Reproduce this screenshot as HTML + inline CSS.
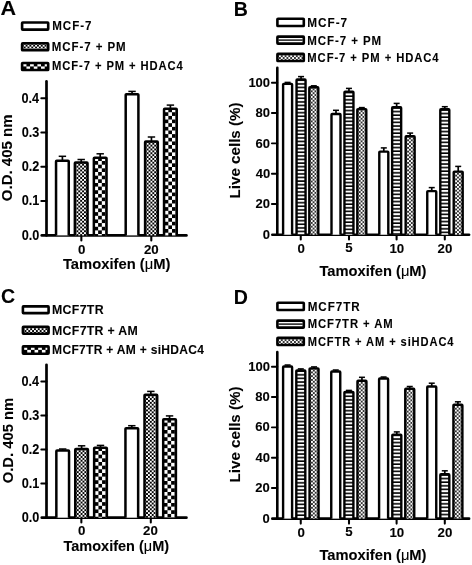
<!DOCTYPE html>
<html><head><meta charset="utf-8"><style>
html,body{margin:0;padding:0;background:#fff;width:472px;height:565px;overflow:hidden;font-family:"Liberation Sans",sans-serif;}
#wrap{position:absolute;left:0;top:0;width:472px;height:565px;}
</style></head><body><div id="wrap">
<svg width="472" height="565" viewBox="0 0 472 565" style="position:absolute;left:0;top:0" font-family='"Liberation Sans", sans-serif' font-weight="bold" fill="#000">
<defs stroke="none"><pattern id="p0" patternUnits="userSpaceOnUse" x="23.70" y="44.70" width="3.80" height="3.80"><rect width="3.80" height="3.80" fill="#000"/><rect width="1.90" height="1.90" fill="#fff"/><rect x="1.90" y="1.90" width="1.90" height="1.90" fill="#fff"/></pattern>
<pattern id="p1" patternUnits="userSpaceOnUse" x="22.80" y="62.80" width="7.30" height="7.30"><rect width="7.30" height="7.30" fill="#000"/><rect width="3.65" height="3.65" fill="#fff"/><rect x="3.65" y="3.65" width="3.65" height="3.65" fill="#fff"/></pattern>
<pattern id="p2" patternUnits="userSpaceOnUse" x="76.40" y="163.80" width="3.80" height="3.80"><rect width="3.80" height="3.80" fill="#000"/><rect width="1.90" height="1.90" fill="#fff"/><rect x="1.90" y="1.90" width="1.90" height="1.90" fill="#fff"/></pattern>
<pattern id="p3" patternUnits="userSpaceOnUse" x="94.50" y="157.40" width="7.30" height="7.30"><rect width="7.30" height="7.30" fill="#000"/><rect width="3.65" height="3.65" fill="#fff"/><rect x="3.65" y="3.65" width="3.65" height="3.65" fill="#fff"/></pattern>
<pattern id="p4" patternUnits="userSpaceOnUse" x="146.65" y="142.80" width="3.80" height="3.80"><rect width="3.80" height="3.80" fill="#000"/><rect width="1.90" height="1.90" fill="#fff"/><rect x="1.90" y="1.90" width="1.90" height="1.90" fill="#fff"/></pattern>
<pattern id="p5" patternUnits="userSpaceOnUse" x="164.70" y="108.60" width="7.30" height="7.30"><rect width="7.30" height="7.30" fill="#000"/><rect width="3.65" height="3.65" fill="#fff"/><rect x="3.65" y="3.65" width="3.65" height="3.65" fill="#fff"/></pattern>
<pattern id="p6" patternUnits="userSpaceOnUse" x="24.50" y="328.20" width="3.80" height="3.80"><rect width="3.80" height="3.80" fill="#000"/><rect width="1.90" height="1.90" fill="#fff"/><rect x="1.90" y="1.90" width="1.90" height="1.90" fill="#fff"/></pattern>
<pattern id="p7" patternUnits="userSpaceOnUse" x="23.60" y="346.20" width="7.30" height="7.30"><rect width="7.30" height="7.30" fill="#000"/><rect width="3.65" height="3.65" fill="#fff"/><rect x="3.65" y="3.65" width="3.65" height="3.65" fill="#fff"/></pattern>
<pattern id="p8" patternUnits="userSpaceOnUse" x="76.80" y="450.30" width="3.80" height="3.80"><rect width="3.80" height="3.80" fill="#000"/><rect width="1.90" height="1.90" fill="#fff"/><rect x="1.90" y="1.90" width="1.90" height="1.90" fill="#fff"/></pattern>
<pattern id="p9" patternUnits="userSpaceOnUse" x="94.80" y="447.40" width="7.30" height="7.30"><rect width="7.30" height="7.30" fill="#000"/><rect width="3.65" height="3.65" fill="#fff"/><rect x="3.65" y="3.65" width="3.65" height="3.65" fill="#fff"/></pattern>
<pattern id="p10" patternUnits="userSpaceOnUse" x="146.05" y="396.20" width="3.80" height="3.80"><rect width="3.80" height="3.80" fill="#000"/><rect width="1.90" height="1.90" fill="#fff"/><rect x="1.90" y="1.90" width="1.90" height="1.90" fill="#fff"/></pattern>
<pattern id="p11" patternUnits="userSpaceOnUse" x="163.85" y="419.00" width="7.30" height="7.30"><rect width="7.30" height="7.30" fill="#000"/><rect width="3.65" height="3.65" fill="#fff"/><rect x="3.65" y="3.65" width="3.65" height="3.65" fill="#fff"/></pattern>
<pattern id="p12" patternUnits="userSpaceOnUse" x="278.95" y="55.20" width="3.76" height="3.76"><rect width="3.76" height="3.76" fill="#fff"/><rect x="1.97" y="0.09" width="1.70" height="1.70" fill="#000"/><rect x="0.09" y="1.97" width="1.70" height="1.70" fill="#000"/></pattern>
<pattern id="p13" patternUnits="userSpaceOnUse" x="297.75" y="81.10" width="4" height="3.6"><rect width="4" height="3.6" fill="#000"/><rect width="4" height="2.02" fill="#fff"/></pattern>
<pattern id="p14" patternUnits="userSpaceOnUse" x="310.75" y="88.50" width="3.76" height="3.76"><rect width="3.76" height="3.76" fill="#fff"/><rect x="1.97" y="0.09" width="1.70" height="1.70" fill="#000"/><rect x="0.09" y="1.97" width="1.70" height="1.70" fill="#000"/></pattern>
<pattern id="p15" patternUnits="userSpaceOnUse" x="345.65" y="93.40" width="4" height="3.6"><rect width="4" height="3.6" fill="#000"/><rect width="4" height="2.02" fill="#fff"/></pattern>
<pattern id="p16" patternUnits="userSpaceOnUse" x="358.75" y="110.30" width="3.76" height="3.76"><rect width="3.76" height="3.76" fill="#fff"/><rect x="1.97" y="0.09" width="1.70" height="1.70" fill="#000"/><rect x="0.09" y="1.97" width="1.70" height="1.70" fill="#000"/></pattern>
<pattern id="p17" patternUnits="userSpaceOnUse" x="393.35" y="108.80" width="4" height="3.6"><rect width="4" height="3.6" fill="#000"/><rect width="4" height="2.02" fill="#fff"/></pattern>
<pattern id="p18" patternUnits="userSpaceOnUse" x="407.10" y="137.50" width="3.76" height="3.76"><rect width="3.76" height="3.76" fill="#fff"/><rect x="1.97" y="0.09" width="1.70" height="1.70" fill="#000"/><rect x="0.09" y="1.97" width="1.70" height="1.70" fill="#000"/></pattern>
<pattern id="p19" patternUnits="userSpaceOnUse" x="441.50" y="110.80" width="4" height="3.6"><rect width="4" height="3.6" fill="#000"/><rect width="4" height="2.02" fill="#fff"/></pattern>
<pattern id="p20" patternUnits="userSpaceOnUse" x="455.15" y="172.80" width="3.76" height="3.76"><rect width="3.76" height="3.76" fill="#fff"/><rect x="1.97" y="0.09" width="1.70" height="1.70" fill="#000"/><rect x="0.09" y="1.97" width="1.70" height="1.70" fill="#000"/></pattern>
<pattern id="p21" patternUnits="userSpaceOnUse" x="278.95" y="339.20" width="3.76" height="3.76"><rect width="3.76" height="3.76" fill="#fff"/><rect x="1.97" y="0.09" width="1.70" height="1.70" fill="#000"/><rect x="0.09" y="1.97" width="1.70" height="1.70" fill="#000"/></pattern>
<pattern id="p22" patternUnits="userSpaceOnUse" x="297.50" y="372.00" width="4" height="3.6"><rect width="4" height="3.6" fill="#000"/><rect width="4" height="2.02" fill="#fff"/></pattern>
<pattern id="p23" patternUnits="userSpaceOnUse" x="311.00" y="369.60" width="3.76" height="3.76"><rect width="3.76" height="3.76" fill="#fff"/><rect x="1.97" y="0.09" width="1.70" height="1.70" fill="#000"/><rect x="0.09" y="1.97" width="1.70" height="1.70" fill="#000"/></pattern>
<pattern id="p24" patternUnits="userSpaceOnUse" x="345.60" y="393.50" width="4" height="3.6"><rect width="4" height="3.6" fill="#000"/><rect width="4" height="2.02" fill="#fff"/></pattern>
<pattern id="p25" patternUnits="userSpaceOnUse" x="358.90" y="381.90" width="3.76" height="3.76"><rect width="3.76" height="3.76" fill="#fff"/><rect x="1.97" y="0.09" width="1.70" height="1.70" fill="#000"/><rect x="0.09" y="1.97" width="1.70" height="1.70" fill="#000"/></pattern>
<pattern id="p26" patternUnits="userSpaceOnUse" x="393.50" y="436.20" width="4" height="3.6"><rect width="4" height="3.6" fill="#000"/><rect width="4" height="2.02" fill="#fff"/></pattern>
<pattern id="p27" patternUnits="userSpaceOnUse" x="406.70" y="390.00" width="3.76" height="3.76"><rect width="3.76" height="3.76" fill="#fff"/><rect x="1.97" y="0.09" width="1.70" height="1.70" fill="#000"/><rect x="0.09" y="1.97" width="1.70" height="1.70" fill="#000"/></pattern>
<pattern id="p28" patternUnits="userSpaceOnUse" x="441.50" y="475.80" width="4" height="3.6"><rect width="4" height="3.6" fill="#000"/><rect width="4" height="2.02" fill="#fff"/></pattern>
<pattern id="p29" patternUnits="userSpaceOnUse" x="454.85" y="405.90" width="3.76" height="3.76"><rect width="3.76" height="3.76" fill="#fff"/><rect x="1.97" y="0.09" width="1.70" height="1.70" fill="#000"/><rect x="0.09" y="1.97" width="1.70" height="1.70" fill="#000"/></pattern></defs>
<filter id="bl" x="0" y="0" width="472" height="565" filterUnits="userSpaceOnUse" color-interpolation-filters="sRGB"><feConvolveMatrix order="3" kernelMatrix="0.00001 0.00381 0.00001 0.00381 0.98471 0.00381 0.00001 0.00381 0.00001" edgeMode="duplicate" preserveAlpha="true"/></filter>
<g filter="url(#bl)">
<rect width="472" height="565" fill="#fff" stroke="none"/>
<g stroke="#000">
<rect x="22.10" y="22.50" width="26.10" height="7.10" rx="0.6" fill="#fff" stroke-width="2.6"/>
<rect x="22.10" y="43.30" width="26.10" height="7.00" rx="0.6" fill="url(#p0)" stroke-width="2.6"/>
<rect x="22.10" y="63.00" width="26.10" height="7.00" rx="0.6" fill="url(#p1)" stroke-width="2.6"/>
<line x1="46.50" y1="81.45" x2="46.50" y2="235.40" stroke-width="2.7" stroke-linecap="round"/>
<line x1="41.80" y1="235.40" x2="186.40" y2="235.40" stroke-width="2.8" stroke-linecap="round"/>
<line x1="41.30" y1="98.20" x2="46.50" y2="98.20" stroke-width="1.95" stroke-linecap="round"/>
<line x1="41.30" y1="132.45" x2="46.50" y2="132.45" stroke-width="1.95" stroke-linecap="round"/>
<line x1="41.30" y1="166.70" x2="46.50" y2="166.70" stroke-width="1.95" stroke-linecap="round"/>
<line x1="41.30" y1="200.95" x2="46.50" y2="200.95" stroke-width="1.95" stroke-linecap="round"/>
<line x1="81.35" y1="235.40" x2="81.35" y2="240.50" stroke-width="2.05" stroke-linecap="round"/>
<line x1="151.30" y1="235.40" x2="151.30" y2="240.50" stroke-width="2.05" stroke-linecap="round"/>
<rect x="56.05" y="160.75" width="12.70" height="74.65" fill="#fff" stroke="none"/>
<path d="M56.05,235.40 V161.45 Q56.05,160.75 56.75,160.75 H68.05 Q68.75,160.75 68.75,161.45 V235.40" fill="none" stroke-width="2.5"/>
<line x1="62.40" y1="156.30" x2="62.40" y2="160.30" stroke-width="1.7"/>
<line x1="58.70" y1="156.30" x2="66.10" y2="156.30" stroke-width="1.5"/>
<rect x="74.85" y="162.45" width="12.70" height="72.95" fill="url(#p2)" stroke="none"/>
<path d="M74.85,235.40 V163.15 Q74.85,162.45 75.55,162.45 H86.85 Q87.55,162.45 87.55,163.15 V235.40" fill="none" stroke-width="2.5"/>
<line x1="81.20" y1="159.50" x2="81.20" y2="162.00" stroke-width="1.7"/>
<line x1="77.50" y1="159.50" x2="84.90" y2="159.50" stroke-width="1.5"/>
<rect x="93.85" y="157.65" width="12.70" height="77.75" fill="url(#p3)" stroke="none"/>
<path d="M93.85,235.40 V158.35 Q93.85,157.65 94.55,157.65 H105.85 Q106.55,157.65 106.55,158.35 V235.40" fill="none" stroke-width="2.5"/>
<line x1="100.20" y1="153.80" x2="100.20" y2="157.20" stroke-width="1.7"/>
<line x1="96.50" y1="153.80" x2="103.90" y2="153.80" stroke-width="1.5"/>
<rect x="125.70" y="94.15" width="12.70" height="141.25" fill="#fff" stroke="none"/>
<path d="M125.70,235.40 V94.85 Q125.70,94.15 126.40,94.15 H137.70 Q138.40,94.15 138.40,94.85 V235.40" fill="none" stroke-width="2.5"/>
<line x1="132.05" y1="91.40" x2="132.05" y2="93.70" stroke-width="1.7"/>
<line x1="128.35" y1="91.40" x2="135.75" y2="91.40" stroke-width="1.5"/>
<rect x="145.10" y="141.45" width="12.70" height="93.95" fill="url(#p4)" stroke="none"/>
<path d="M145.10,235.40 V142.15 Q145.10,141.45 145.80,141.45 H157.10 Q157.80,141.45 157.80,142.15 V235.40" fill="none" stroke-width="2.5"/>
<line x1="151.45" y1="137.00" x2="151.45" y2="141.00" stroke-width="1.7"/>
<line x1="147.75" y1="137.00" x2="155.15" y2="137.00" stroke-width="1.5"/>
<rect x="164.05" y="108.85" width="12.70" height="126.55" fill="url(#p5)" stroke="none"/>
<path d="M164.05,235.40 V109.55 Q164.05,108.85 164.75,108.85 H176.05 Q176.75,108.85 176.75,109.55 V235.40" fill="none" stroke-width="2.5"/>
<line x1="170.40" y1="105.10" x2="170.40" y2="108.40" stroke-width="1.7"/>
<line x1="166.70" y1="105.10" x2="174.10" y2="105.10" stroke-width="1.5"/>
<rect x="22.90" y="306.40" width="25.70" height="6.70" rx="0.6" fill="#fff" stroke-width="2.6"/>
<rect x="22.90" y="326.80" width="25.70" height="6.90" rx="0.6" fill="url(#p6)" stroke-width="2.6"/>
<rect x="22.90" y="346.40" width="25.70" height="7.30" rx="0.6" fill="url(#p7)" stroke-width="2.6"/>
<line x1="46.50" y1="364.85" x2="46.50" y2="517.70" stroke-width="2.7" stroke-linecap="round"/>
<line x1="41.80" y1="517.70" x2="186.40" y2="517.70" stroke-width="2.8" stroke-linecap="round"/>
<line x1="41.30" y1="381.40" x2="46.50" y2="381.40" stroke-width="1.95" stroke-linecap="round"/>
<line x1="41.30" y1="415.40" x2="46.50" y2="415.40" stroke-width="1.95" stroke-linecap="round"/>
<line x1="41.30" y1="449.40" x2="46.50" y2="449.40" stroke-width="1.95" stroke-linecap="round"/>
<line x1="41.30" y1="483.40" x2="46.50" y2="483.40" stroke-width="1.95" stroke-linecap="round"/>
<line x1="81.35" y1="517.70" x2="81.35" y2="522.50" stroke-width="2.05" stroke-linecap="round"/>
<line x1="150.80" y1="517.70" x2="150.80" y2="522.50" stroke-width="2.05" stroke-linecap="round"/>
<rect x="56.35" y="450.55" width="12.70" height="67.15" fill="#fff" stroke="none"/>
<path d="M56.35,517.70 V451.25 Q56.35,450.55 57.05,450.55 H68.35 Q69.05,450.55 69.05,451.25 V517.70" fill="none" stroke-width="2.5"/>
<line x1="62.70" y1="449.00" x2="62.70" y2="450.10" stroke-width="1.7"/>
<line x1="59.00" y1="449.00" x2="66.40" y2="449.00" stroke-width="1.5"/>
<rect x="75.25" y="448.95" width="12.70" height="68.75" fill="url(#p8)" stroke="none"/>
<path d="M75.25,517.70 V449.65 Q75.25,448.95 75.95,448.95 H87.25 Q87.95,448.95 87.95,449.65 V517.70" fill="none" stroke-width="2.5"/>
<line x1="81.60" y1="445.80" x2="81.60" y2="448.50" stroke-width="1.7"/>
<line x1="77.90" y1="445.80" x2="85.30" y2="445.80" stroke-width="1.5"/>
<rect x="94.15" y="447.65" width="12.70" height="70.05" fill="url(#p9)" stroke="none"/>
<path d="M94.15,517.70 V448.35 Q94.15,447.65 94.85,447.65 H106.15 Q106.85,447.65 106.85,448.35 V517.70" fill="none" stroke-width="2.5"/>
<line x1="100.50" y1="445.40" x2="100.50" y2="447.20" stroke-width="1.7"/>
<line x1="96.80" y1="445.40" x2="104.20" y2="445.40" stroke-width="1.5"/>
<rect x="125.45" y="428.15" width="12.70" height="89.55" fill="#fff" stroke="none"/>
<path d="M125.45,517.70 V428.85 Q125.45,428.15 126.15,428.15 H137.45 Q138.15,428.15 138.15,428.85 V517.70" fill="none" stroke-width="2.5"/>
<line x1="131.80" y1="425.70" x2="131.80" y2="427.70" stroke-width="1.7"/>
<line x1="128.10" y1="425.70" x2="135.50" y2="425.70" stroke-width="1.5"/>
<rect x="144.50" y="394.85" width="12.70" height="122.85" fill="url(#p10)" stroke="none"/>
<path d="M144.50,517.70 V395.55 Q144.50,394.85 145.20,394.85 H156.50 Q157.20,394.85 157.20,395.55 V517.70" fill="none" stroke-width="2.5"/>
<line x1="150.85" y1="391.40" x2="150.85" y2="394.40" stroke-width="1.7"/>
<line x1="147.15" y1="391.40" x2="154.55" y2="391.40" stroke-width="1.5"/>
<rect x="163.20" y="419.25" width="12.70" height="98.45" fill="url(#p11)" stroke="none"/>
<path d="M163.20,517.70 V419.95 Q163.20,419.25 163.90,419.25 H175.20 Q175.90,419.25 175.90,419.95 V517.70" fill="none" stroke-width="2.5"/>
<line x1="169.55" y1="415.90" x2="169.55" y2="418.80" stroke-width="1.7"/>
<line x1="165.85" y1="415.90" x2="173.25" y2="415.90" stroke-width="1.5"/>
<rect x="277.40" y="18.70" width="26.40" height="7.30" rx="0.6" fill="#fff" stroke-width="2.6"/>
<rect x="277.40" y="36.60" width="26.40" height="7.00" rx="0.6" fill="#fff" stroke-width="2.6"/>
<line x1="278.60" y1="40.10" x2="302.60" y2="40.10" stroke-width="1.35"/>
<rect x="277.40" y="53.90" width="26.40" height="7.10" rx="0.6" fill="url(#p12)" stroke-width="2.6"/>
<line x1="277.30" y1="67.70" x2="277.30" y2="234.75" stroke-width="2.6" stroke-linecap="round"/>
<line x1="272.35" y1="234.75" x2="469.05" y2="234.75" stroke-width="2.7" stroke-linecap="round"/>
<line x1="271.90" y1="82.70" x2="277.30" y2="82.70" stroke-width="1.95" stroke-linecap="round"/>
<line x1="271.90" y1="113.00" x2="277.30" y2="113.00" stroke-width="1.95" stroke-linecap="round"/>
<line x1="271.90" y1="143.35" x2="277.30" y2="143.35" stroke-width="1.95" stroke-linecap="round"/>
<line x1="271.90" y1="173.70" x2="277.30" y2="173.70" stroke-width="1.95" stroke-linecap="round"/>
<line x1="271.90" y1="204.05" x2="277.30" y2="204.05" stroke-width="1.95" stroke-linecap="round"/>
<line x1="300.75" y1="234.75" x2="300.75" y2="239.50" stroke-width="2.05" stroke-linecap="round"/>
<line x1="349.00" y1="234.75" x2="349.00" y2="239.50" stroke-width="2.05" stroke-linecap="round"/>
<line x1="396.60" y1="234.75" x2="396.60" y2="239.50" stroke-width="2.05" stroke-linecap="round"/>
<line x1="444.80" y1="234.75" x2="444.80" y2="239.50" stroke-width="2.05" stroke-linecap="round"/>
<rect x="283.10" y="83.90" width="9.00" height="150.85" fill="#fff" stroke="none"/>
<path d="M283.10,234.75 V84.60 Q283.10,83.90 283.80,83.90 H291.40 Q292.10,83.90 292.10,84.60 V234.75" fill="none" stroke-width="2.4"/>
<line x1="287.60" y1="82.40" x2="287.60" y2="83.50" stroke-width="1.7"/>
<line x1="284.60" y1="82.40" x2="290.60" y2="82.40" stroke-width="1.5"/>
<rect x="296.55" y="79.50" width="9.00" height="155.25" fill="url(#p13)" stroke="none"/>
<path d="M296.55,234.75 V80.20 Q296.55,79.50 297.25,79.50 H304.85 Q305.55,79.50 305.55,80.20 V234.75" fill="none" stroke-width="2.4"/>
<line x1="301.05" y1="76.60" x2="301.05" y2="79.10" stroke-width="1.7"/>
<line x1="298.05" y1="76.60" x2="304.05" y2="76.60" stroke-width="1.5"/>
<rect x="309.30" y="87.30" width="9.00" height="147.45" fill="url(#p14)" stroke="none"/>
<path d="M309.30,234.75 V88.00 Q309.30,87.30 310.00,87.30 H317.60 Q318.30,87.30 318.30,88.00 V234.75" fill="none" stroke-width="2.4"/>
<line x1="313.80" y1="85.80" x2="313.80" y2="86.90" stroke-width="1.7"/>
<line x1="310.80" y1="85.80" x2="316.80" y2="85.80" stroke-width="1.5"/>
<rect x="331.50" y="114.00" width="9.00" height="120.75" fill="#fff" stroke="none"/>
<path d="M331.50,234.75 V114.70 Q331.50,114.00 332.20,114.00 H339.80 Q340.50,114.00 340.50,114.70 V234.75" fill="none" stroke-width="2.4"/>
<line x1="336.00" y1="110.30" x2="336.00" y2="113.60" stroke-width="1.7"/>
<line x1="333.00" y1="110.30" x2="339.00" y2="110.30" stroke-width="1.5"/>
<rect x="344.45" y="91.80" width="9.00" height="142.95" fill="url(#p15)" stroke="none"/>
<path d="M344.45,234.75 V92.50 Q344.45,91.80 345.15,91.80 H352.75 Q353.45,91.80 353.45,92.50 V234.75" fill="none" stroke-width="2.4"/>
<line x1="348.95" y1="88.40" x2="348.95" y2="91.40" stroke-width="1.7"/>
<line x1="345.95" y1="88.40" x2="351.95" y2="88.40" stroke-width="1.5"/>
<rect x="357.30" y="109.10" width="9.00" height="125.65" fill="url(#p16)" stroke="none"/>
<path d="M357.30,234.75 V109.80 Q357.30,109.10 358.00,109.10 H365.60 Q366.30,109.10 366.30,109.80 V234.75" fill="none" stroke-width="2.4"/>
<line x1="361.80" y1="107.60" x2="361.80" y2="108.70" stroke-width="1.7"/>
<line x1="358.80" y1="107.60" x2="364.80" y2="107.60" stroke-width="1.5"/>
<rect x="379.30" y="151.60" width="9.00" height="83.15" fill="#fff" stroke="none"/>
<path d="M379.30,234.75 V152.30 Q379.30,151.60 380.00,151.60 H387.60 Q388.30,151.60 388.30,152.30 V234.75" fill="none" stroke-width="2.4"/>
<line x1="383.80" y1="147.90" x2="383.80" y2="151.20" stroke-width="1.7"/>
<line x1="380.80" y1="147.90" x2="386.80" y2="147.90" stroke-width="1.5"/>
<rect x="392.15" y="107.20" width="9.00" height="127.55" fill="url(#p17)" stroke="none"/>
<path d="M392.15,234.75 V107.90 Q392.15,107.20 392.85,107.20 H400.45 Q401.15,107.20 401.15,107.90 V234.75" fill="none" stroke-width="2.4"/>
<line x1="396.65" y1="103.40" x2="396.65" y2="106.80" stroke-width="1.7"/>
<line x1="393.65" y1="103.40" x2="399.65" y2="103.40" stroke-width="1.5"/>
<rect x="405.65" y="136.30" width="9.00" height="98.45" fill="url(#p18)" stroke="none"/>
<path d="M405.65,234.75 V137.00 Q405.65,136.30 406.35,136.30 H413.95 Q414.65,136.30 414.65,137.00 V234.75" fill="none" stroke-width="2.4"/>
<line x1="410.15" y1="133.10" x2="410.15" y2="135.90" stroke-width="1.7"/>
<line x1="407.15" y1="133.10" x2="413.15" y2="133.10" stroke-width="1.5"/>
<rect x="427.25" y="191.10" width="9.00" height="43.65" fill="#fff" stroke="none"/>
<path d="M427.25,234.75 V191.80 Q427.25,191.10 427.95,191.10 H435.55 Q436.25,191.10 436.25,191.80 V234.75" fill="none" stroke-width="2.4"/>
<line x1="431.75" y1="187.60" x2="431.75" y2="190.70" stroke-width="1.7"/>
<line x1="428.75" y1="187.60" x2="434.75" y2="187.60" stroke-width="1.5"/>
<rect x="440.30" y="109.20" width="9.00" height="125.55" fill="url(#p19)" stroke="none"/>
<path d="M440.30,234.75 V109.90 Q440.30,109.20 441.00,109.20 H448.60 Q449.30,109.20 449.30,109.90 V234.75" fill="none" stroke-width="2.4"/>
<line x1="444.80" y1="106.70" x2="444.80" y2="108.80" stroke-width="1.7"/>
<line x1="441.80" y1="106.70" x2="447.80" y2="106.70" stroke-width="1.5"/>
<rect x="453.70" y="171.60" width="9.00" height="63.15" fill="url(#p20)" stroke="none"/>
<path d="M453.70,234.75 V172.30 Q453.70,171.60 454.40,171.60 H462.00 Q462.70,171.60 462.70,172.30 V234.75" fill="none" stroke-width="2.4"/>
<line x1="458.20" y1="166.40" x2="458.20" y2="171.20" stroke-width="1.7"/>
<line x1="455.20" y1="166.40" x2="461.20" y2="166.40" stroke-width="1.5"/>
<rect x="277.40" y="302.70" width="26.40" height="7.30" rx="0.6" fill="#fff" stroke-width="2.6"/>
<rect x="277.40" y="320.60" width="26.40" height="7.00" rx="0.6" fill="#fff" stroke-width="2.6"/>
<line x1="278.60" y1="324.10" x2="302.60" y2="324.10" stroke-width="1.35"/>
<rect x="277.40" y="337.90" width="26.40" height="7.10" rx="0.6" fill="url(#p21)" stroke-width="2.6"/>
<line x1="277.30" y1="352.10" x2="277.30" y2="518.65" stroke-width="2.6" stroke-linecap="round"/>
<line x1="272.35" y1="518.65" x2="469.05" y2="518.65" stroke-width="2.7" stroke-linecap="round"/>
<line x1="271.90" y1="366.70" x2="277.30" y2="366.70" stroke-width="1.95" stroke-linecap="round"/>
<line x1="271.90" y1="397.00" x2="277.30" y2="397.00" stroke-width="1.95" stroke-linecap="round"/>
<line x1="271.90" y1="427.35" x2="277.30" y2="427.35" stroke-width="1.95" stroke-linecap="round"/>
<line x1="271.90" y1="457.70" x2="277.30" y2="457.70" stroke-width="1.95" stroke-linecap="round"/>
<line x1="271.90" y1="488.05" x2="277.30" y2="488.05" stroke-width="1.95" stroke-linecap="round"/>
<line x1="300.75" y1="518.65" x2="300.75" y2="523.60" stroke-width="2.05" stroke-linecap="round"/>
<line x1="349.00" y1="518.65" x2="349.00" y2="523.60" stroke-width="2.05" stroke-linecap="round"/>
<line x1="396.60" y1="518.65" x2="396.60" y2="523.60" stroke-width="2.05" stroke-linecap="round"/>
<line x1="444.80" y1="518.65" x2="444.80" y2="523.60" stroke-width="2.05" stroke-linecap="round"/>
<rect x="283.10" y="366.50" width="9.00" height="152.15" fill="#fff" stroke="none"/>
<path d="M283.10,518.65 V367.20 Q283.10,366.50 283.80,366.50 H291.40 Q292.10,366.50 292.10,367.20 V518.65" fill="none" stroke-width="2.4"/>
<line x1="287.60" y1="365.00" x2="287.60" y2="366.10" stroke-width="1.7"/>
<line x1="284.60" y1="365.00" x2="290.60" y2="365.00" stroke-width="1.5"/>
<rect x="296.30" y="370.40" width="9.00" height="148.25" fill="url(#p22)" stroke="none"/>
<path d="M296.30,518.65 V371.10 Q296.30,370.40 297.00,370.40 H304.60 Q305.30,370.40 305.30,371.10 V518.65" fill="none" stroke-width="2.4"/>
<line x1="300.80" y1="368.90" x2="300.80" y2="370.00" stroke-width="1.7"/>
<line x1="297.80" y1="368.90" x2="303.80" y2="368.90" stroke-width="1.5"/>
<rect x="309.55" y="368.40" width="9.00" height="150.25" fill="url(#p23)" stroke="none"/>
<path d="M309.55,518.65 V369.10 Q309.55,368.40 310.25,368.40 H317.85 Q318.55,368.40 318.55,369.10 V518.65" fill="none" stroke-width="2.4"/>
<line x1="314.05" y1="366.90" x2="314.05" y2="368.00" stroke-width="1.7"/>
<line x1="311.05" y1="366.90" x2="317.05" y2="366.90" stroke-width="1.5"/>
<rect x="331.25" y="371.50" width="9.00" height="147.15" fill="#fff" stroke="none"/>
<path d="M331.25,518.65 V372.20 Q331.25,371.50 331.95,371.50 H339.55 Q340.25,371.50 340.25,372.20 V518.65" fill="none" stroke-width="2.4"/>
<line x1="335.75" y1="370.00" x2="335.75" y2="371.10" stroke-width="1.7"/>
<line x1="332.75" y1="370.00" x2="338.75" y2="370.00" stroke-width="1.5"/>
<rect x="344.40" y="391.90" width="9.00" height="126.75" fill="url(#p24)" stroke="none"/>
<path d="M344.40,518.65 V392.60 Q344.40,391.90 345.10,391.90 H352.70 Q353.40,391.90 353.40,392.60 V518.65" fill="none" stroke-width="2.4"/>
<line x1="348.90" y1="390.40" x2="348.90" y2="391.50" stroke-width="1.7"/>
<line x1="345.90" y1="390.40" x2="351.90" y2="390.40" stroke-width="1.5"/>
<rect x="357.45" y="380.70" width="9.00" height="137.95" fill="url(#p25)" stroke="none"/>
<path d="M357.45,518.65 V381.40 Q357.45,380.70 358.15,380.70 H365.75 Q366.45,380.70 366.45,381.40 V518.65" fill="none" stroke-width="2.4"/>
<line x1="361.95" y1="377.30" x2="361.95" y2="380.30" stroke-width="1.7"/>
<line x1="358.95" y1="377.30" x2="364.95" y2="377.30" stroke-width="1.5"/>
<rect x="379.10" y="378.50" width="9.00" height="140.15" fill="#fff" stroke="none"/>
<path d="M379.10,518.65 V379.20 Q379.10,378.50 379.80,378.50 H387.40 Q388.10,378.50 388.10,379.20 V518.65" fill="none" stroke-width="2.4"/>
<line x1="383.60" y1="377.00" x2="383.60" y2="378.10" stroke-width="1.7"/>
<line x1="380.60" y1="377.00" x2="386.60" y2="377.00" stroke-width="1.5"/>
<rect x="392.30" y="434.60" width="9.00" height="84.05" fill="url(#p26)" stroke="none"/>
<path d="M392.30,518.65 V435.30 Q392.30,434.60 393.00,434.60 H400.60 Q401.30,434.60 401.30,435.30 V518.65" fill="none" stroke-width="2.4"/>
<line x1="396.80" y1="431.90" x2="396.80" y2="434.20" stroke-width="1.7"/>
<line x1="393.80" y1="431.90" x2="399.80" y2="431.90" stroke-width="1.5"/>
<rect x="405.25" y="388.80" width="9.00" height="129.85" fill="url(#p27)" stroke="none"/>
<path d="M405.25,518.65 V389.50 Q405.25,388.80 405.95,388.80 H413.55 Q414.25,388.80 414.25,389.50 V518.65" fill="none" stroke-width="2.4"/>
<line x1="409.75" y1="386.50" x2="409.75" y2="388.40" stroke-width="1.7"/>
<line x1="406.75" y1="386.50" x2="412.75" y2="386.50" stroke-width="1.5"/>
<rect x="427.25" y="386.50" width="9.00" height="132.15" fill="#fff" stroke="none"/>
<path d="M427.25,518.65 V387.20 Q427.25,386.50 427.95,386.50 H435.55 Q436.25,386.50 436.25,387.20 V518.65" fill="none" stroke-width="2.4"/>
<line x1="431.75" y1="383.20" x2="431.75" y2="386.10" stroke-width="1.7"/>
<line x1="428.75" y1="383.20" x2="434.75" y2="383.20" stroke-width="1.5"/>
<rect x="440.30" y="474.20" width="9.00" height="44.45" fill="url(#p28)" stroke="none"/>
<path d="M440.30,518.65 V474.90 Q440.30,474.20 441.00,474.20 H448.60 Q449.30,474.20 449.30,474.90 V518.65" fill="none" stroke-width="2.4"/>
<line x1="444.80" y1="470.80" x2="444.80" y2="473.80" stroke-width="1.7"/>
<line x1="441.80" y1="470.80" x2="447.80" y2="470.80" stroke-width="1.5"/>
<rect x="453.40" y="404.70" width="9.00" height="113.95" fill="url(#p29)" stroke="none"/>
<path d="M453.40,518.65 V405.40 Q453.40,404.70 454.10,404.70 H461.70 Q462.40,404.70 462.40,405.40 V518.65" fill="none" stroke-width="2.4"/>
<line x1="457.90" y1="401.80" x2="457.90" y2="404.30" stroke-width="1.7"/>
<line x1="454.90" y1="401.80" x2="460.90" y2="401.80" stroke-width="1.5"/>
</g>
</g>
<g stroke="#000" stroke-width="0.1" style="opacity:0.999">
<text transform="translate(0.43,15.21) scale(1.0800,1.0300)" font-size="20">A</text>
<text transform="translate(233.72,15.98) scale(0.9800,1.0300)" font-size="20">B</text>
<text transform="translate(1.09,302.58) scale(0.9800,1.0300)" font-size="20">C</text>
<text transform="translate(233.72,303.63) scale(0.9800,1.0300)" font-size="20">D</text>
<text transform="translate(52.30,29.90) scale(0.9333,1.0000)" font-size="12.4" letter-spacing="1.0">MCF-7</text>
<text transform="translate(51.80,50.90) scale(0.9282,1.0000)" font-size="12.4" letter-spacing="1.0">MCF-7 + PM</text>
<text transform="translate(52.02,70.20) scale(0.9059,1.0000)" font-size="12.4" letter-spacing="1.0">MCF-7 + PM + HDAC4</text>
<text transform="translate(307.29,26.70) scale(0.9506,1.0000)" font-size="12.4" letter-spacing="1.0">MCF-7</text>
<text transform="translate(307.30,44.50) scale(0.9282,1.0000)" font-size="12.4" letter-spacing="1.0">MCF-7 + PM</text>
<text transform="translate(307.32,61.80) scale(0.9094,1.0000)" font-size="12.4" letter-spacing="1.0">MCF-7 + PM + HDAC4</text>
<text transform="translate(52.05,314.20) scale(0.9951,1.0000)" font-size="12.4" letter-spacing="0.3">MCF7TR</text>
<text transform="translate(52.05,334.80) scale(0.9941,1.0000)" font-size="12.4" letter-spacing="0.3">MCF7TR + AM</text>
<text transform="translate(52.07,354.30) scale(0.9717,1.0000)" font-size="12.4" letter-spacing="0.3">MCF7TR + AM + siHDAC4</text>
<text transform="translate(307.69,310.90) scale(0.9401,0.9700)" font-size="12.4" letter-spacing="1.0">MCF7TR</text>
<text transform="translate(307.72,328.40) scale(0.9115,0.9700)" font-size="12.4" letter-spacing="1.0">MCF7TR + AM</text>
<text transform="translate(307.73,345.80) scale(0.8977,0.9700)" font-size="12.4" letter-spacing="1.0">MCFTR + AM + siHDAC4</text>
<text transform="translate(62.94,269.10) scale(1.0545,1.0800)" font-size="14">Tamoxifen (<tspan font-weight="normal">&#956;</tspan>M)</text>
<text transform="translate(319.44,276.10) scale(1.0515,1.0800)" font-size="14">Tamoxifen (<tspan font-weight="normal">&#956;</tspan>M)</text>
<text transform="translate(63.54,550.90) scale(1.0366,1.0800)" font-size="14">Tamoxifen (<tspan font-weight="normal">&#956;</tspan>M)</text>
<text transform="translate(319.44,560.30) scale(1.0515,1.0800)" font-size="14">Tamoxifen (<tspan font-weight="normal">&#956;</tspan>M)</text>
<text transform="translate(12.44,201.15) scale(1.0300,1.0000) rotate(-90)" font-size="15">O.D. 405 nm</text>
<text transform="translate(13.14,483.25) scale(1.0300,0.9850) rotate(-90)" font-size="15">O.D. 405 nm</text>
<text transform="translate(240.23,198.50) scale(1.0250,1.0120) rotate(-90)" font-size="15">Live cells (%)</text>
<text transform="translate(240.23,482.50) scale(1.0250,1.0120) rotate(-90)" font-size="15">Live cells (%)</text>
<text transform="translate(21.43,102.61) scale(0.9550,1.0500)" font-size="13.3">0.4</text>
<text transform="translate(21.67,136.86) scale(0.9550,1.0500)" font-size="13.3">0.3</text>
<text transform="translate(21.67,171.11) scale(0.9550,1.0500)" font-size="13.3">0.2</text>
<text transform="translate(21.67,205.36) scale(0.9550,1.0500)" font-size="13.3">0.1</text>
<text transform="translate(21.67,239.61) scale(0.9550,1.0500)" font-size="13.3">0.0</text>
<text transform="translate(21.43,385.71) scale(0.9550,1.0500)" font-size="13.3">0.4</text>
<text transform="translate(21.67,419.71) scale(0.9550,1.0500)" font-size="13.3">0.3</text>
<text transform="translate(21.67,453.71) scale(0.9550,1.0500)" font-size="13.3">0.2</text>
<text transform="translate(21.67,487.71) scale(0.9550,1.0500)" font-size="13.3">0.1</text>
<text transform="translate(21.67,521.71) scale(0.9550,1.0500)" font-size="13.3">0.0</text>
<text transform="translate(248.38,86.95) scale(0.9800,1.0050)" font-size="13.3">100</text>
<text transform="translate(255.57,117.25) scale(0.9800,1.0050)" font-size="13.3">80</text>
<text transform="translate(255.57,147.60) scale(0.9800,1.0050)" font-size="13.3">60</text>
<text transform="translate(255.70,177.95) scale(0.9800,1.0050)" font-size="13.3">40</text>
<text transform="translate(255.57,208.30) scale(0.9800,1.0050)" font-size="13.3">20</text>
<text transform="translate(262.75,238.85) scale(0.9800,1.0050)" font-size="13.3">0</text>
<text transform="translate(248.17,370.85) scale(0.9800,1.0050)" font-size="13.3">100</text>
<text transform="translate(255.37,401.15) scale(0.9800,1.0050)" font-size="13.3">80</text>
<text transform="translate(255.37,431.45) scale(0.9800,1.0050)" font-size="13.3">60</text>
<text transform="translate(255.49,461.85) scale(0.9800,1.0050)" font-size="13.3">40</text>
<text transform="translate(255.37,492.15) scale(0.9800,1.0050)" font-size="13.3">20</text>
<text transform="translate(262.55,522.65) scale(0.9800,1.0050)" font-size="13.3">0</text>
<text transform="translate(77.97,253.57) scale(1.0000,1.0200)" font-size="13.3">0</text>
<text transform="translate(143.88,253.57) scale(1.0000,1.0200)" font-size="13.3">20</text>
<text transform="translate(77.97,534.72) scale(1.0000,1.0200)" font-size="13.3">0</text>
<text transform="translate(143.12,534.77) scale(1.0000,1.0200)" font-size="13.3">20</text>
<text transform="translate(297.42,252.62) scale(1.0000,1.0200)" font-size="13.3">0</text>
<text transform="translate(345.20,252.49) scale(1.0000,1.0200)" font-size="13.3">5</text>
<text transform="translate(389.40,252.62) scale(1.0000,1.0200)" font-size="13.3">10</text>
<text transform="translate(437.52,252.62) scale(1.0000,1.0200)" font-size="13.3">20</text>
<text transform="translate(297.42,536.62) scale(1.0000,1.0200)" font-size="13.3">0</text>
<text transform="translate(345.20,536.49) scale(1.0000,1.0200)" font-size="13.3">5</text>
<text transform="translate(389.40,536.62) scale(1.0000,1.0200)" font-size="13.3">10</text>
<text transform="translate(437.52,536.62) scale(1.0000,1.0200)" font-size="13.3">20</text>
</g>
</svg>
</div></body></html>
